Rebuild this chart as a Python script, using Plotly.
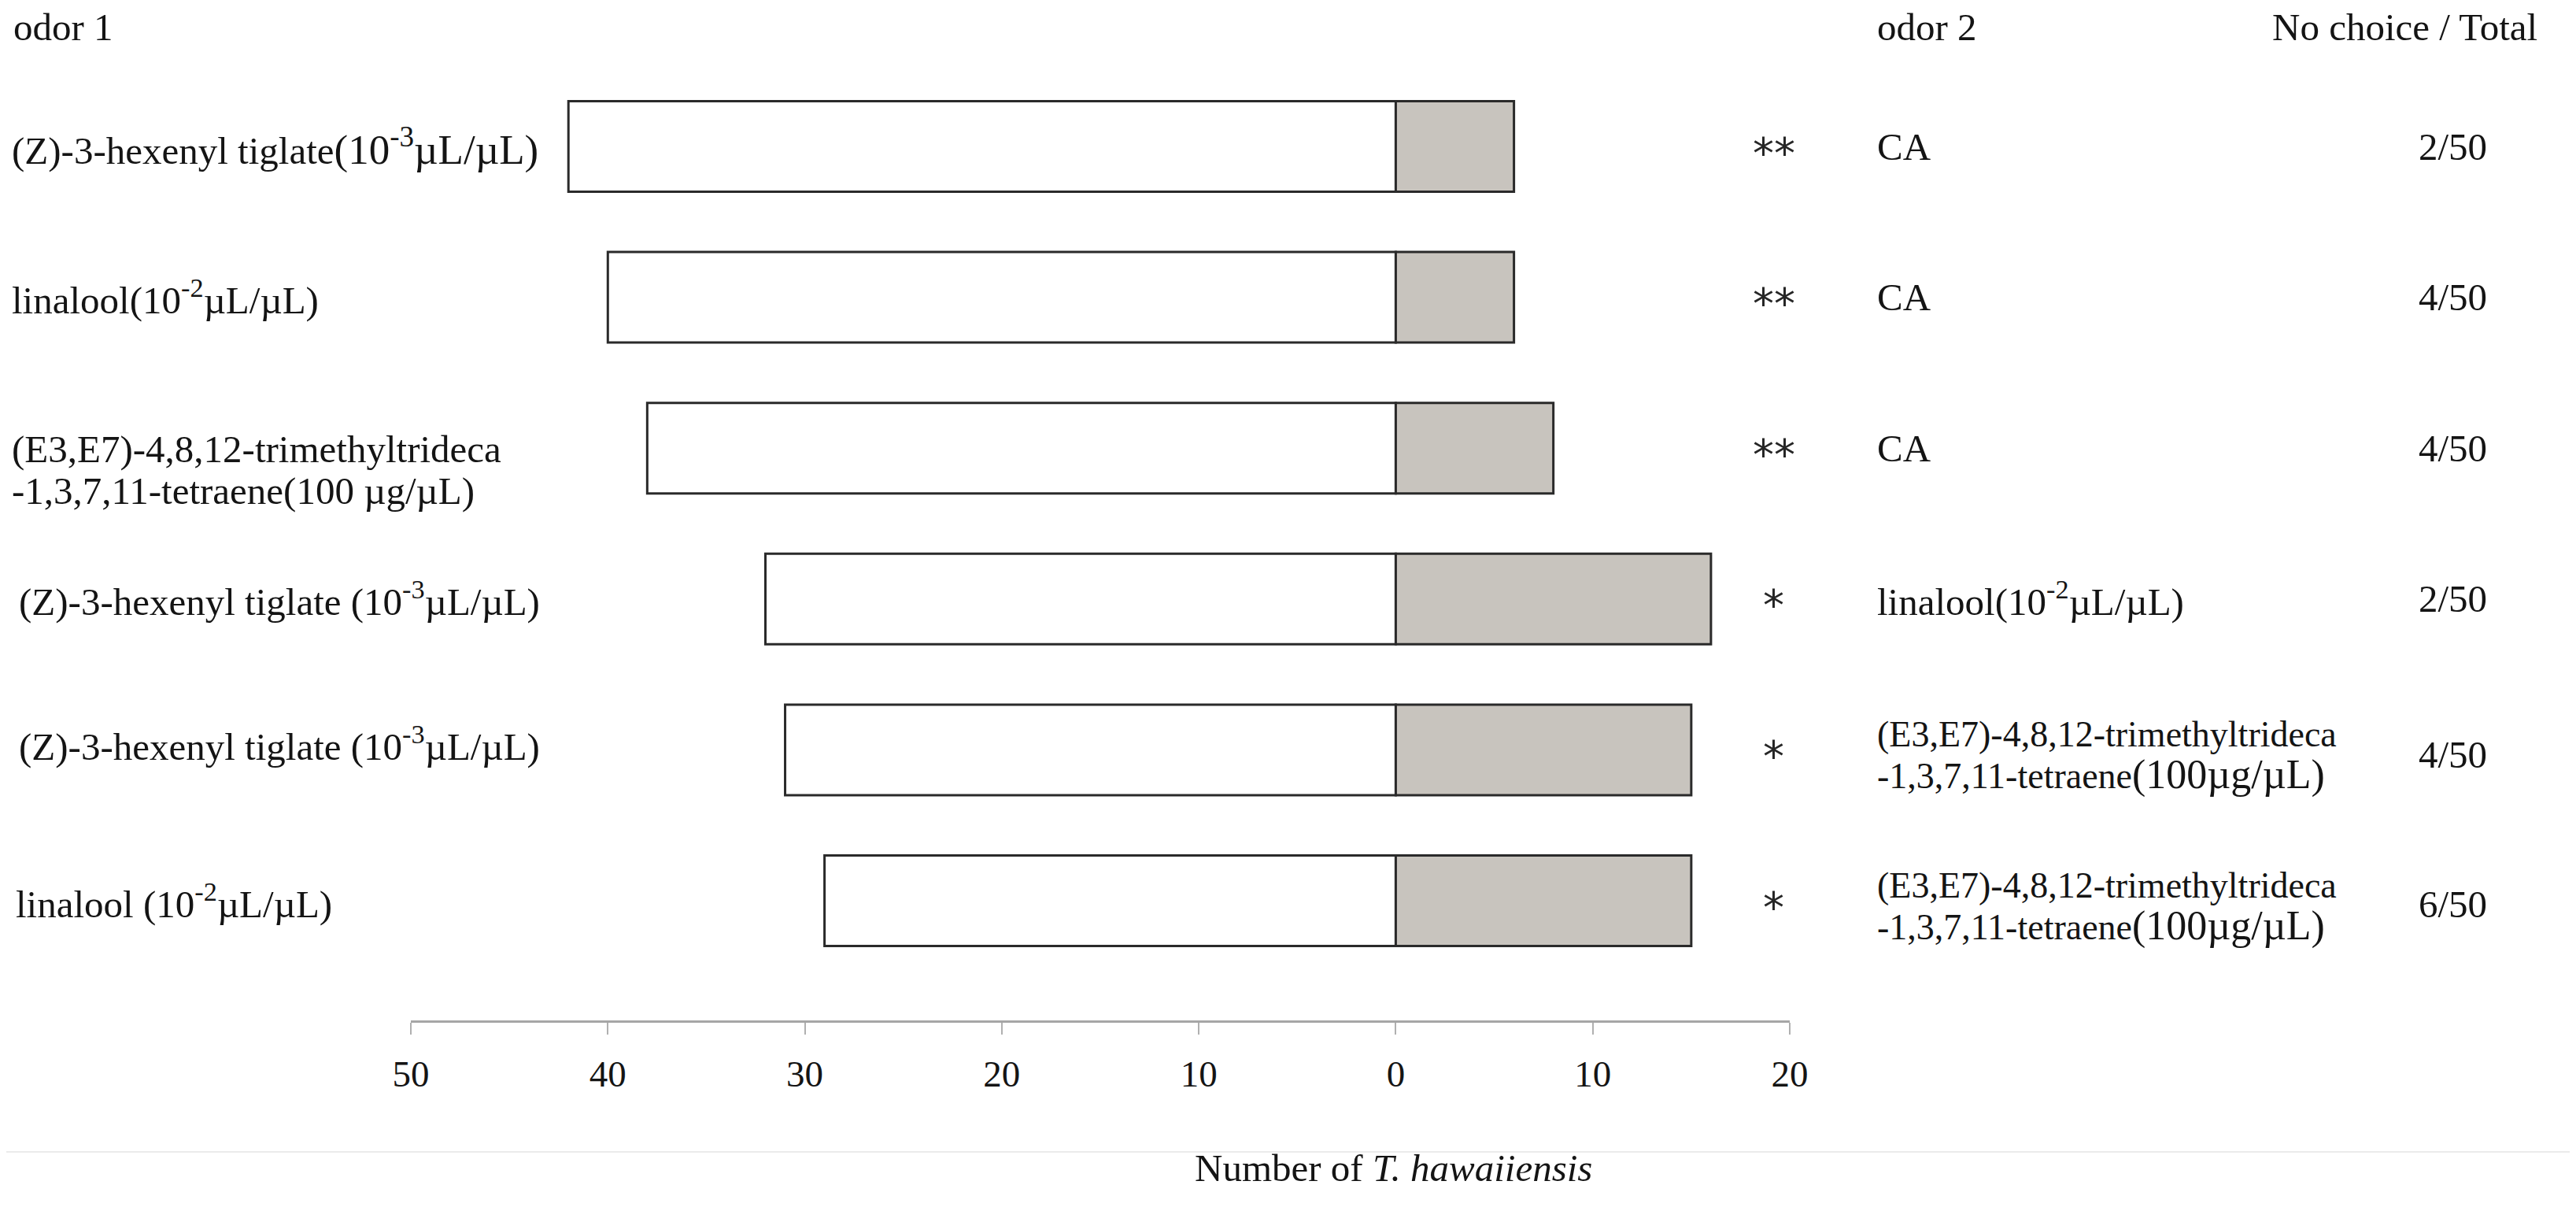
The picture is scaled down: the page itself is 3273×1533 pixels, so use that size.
import plotly.graph_objects as go

# ---------------- data ----------------
# (compound name, concentration); "<br>" separates printed lines
odor1 = [
    ("(Z)-3-hexenyl tiglate", "(10<sup>-3</sup>µL/µL)"),
    ("linalool", "(10<sup>-2</sup>µL/µL)"),
    ("(E3,E7)-4,8,12-trimethyltrideca<br>-1,3,7,11-tetraene", "(100 µg/µL)"),
    ("(Z)-3-hexenyl tiglate ", "(10<sup>-3</sup>µL/µL)"),
    ("(Z)-3-hexenyl tiglate ", "(10<sup>-3</sup>µL/µL)"),
    ("linalool ", "(10<sup>-2</sup>µL/µL)"),
]
odor2 = [
    ("CA", ""),
    ("CA", ""),
    ("CA", ""),
    ("linalool", "(10<sup>-2</sup>µL/µL)"),
    ("(E3,E7)-4,8,12-trimethyltrideca<br>-1,3,7,11-tetraene", "(100µg/µL)"),
    ("(E3,E7)-4,8,12-trimethyltrideca<br>-1,3,7,11-tetraene", "(100µg/µL)"),
]
odor1_counts = [42, 40, 38, 32, 31, 29]
odor2_counts = [6, 6, 8, 16, 15, 15]
no_choice = ["2/50", "4/50", "4/50", "2/50", "4/50", "6/50"]
significance = ["**", "**", "**", "*", "*", "*"]
tick_vals = [-50, -40, -30, -20, -10, 0, 10, 20]
tick_text = ["50", "40", "30", "20", "10", "0", "10", "20"]
x_title = "Number of <i>T. hawaiiensis</i>"
header_left, header_mid, header_right = "odor 1", "odor 2", "No choice / Total"

# ---------------- layout (pixel positions on the page) ----------------
PAGE_W, PAGE_H = 3273, 1533
OFF = 8                                  # default body margin of the page
W, H = PAGE_W - 2 * OFF, PAGE_H - 2 * OFF
AXIS_Y = 1296 - OFF                      # x axis line (figure px)
ROW0, ROW_STEP = 186 - OFF, 191.6        # first row centre and spacing
FONT = "Liberation Serif"
FS = 49
TXT = "#141414"

def px_x(p):            # page px -> paper x
    return (p - OFF) / W

def px_y(p):            # page px -> paper y (paper spans figure top .. axis line)
    return (AXIS_Y - (p - OFF)) / AXIS_Y

rows = list(range(len(odor1)))
y_top = -ROW0 / ROW_STEP
y_bot = (AXIS_Y - ROW0) / ROW_STEP

fig = go.Figure()
fig.add_trace(go.Bar(
    y=rows, x=[-v for v in odor1_counts], orientation="h", base=0,
    width=0.6, marker=dict(color="white", line=dict(color="#2a2a2a", width=3)),
    showlegend=False, hoverinfo="skip",
))
fig.add_trace(go.Bar(
    y=rows, x=odor2_counts, orientation="h", base=0,
    width=0.6, marker=dict(color="#c8c4be", line=dict(color="#2a2a2a", width=3)),
    showlegend=False, hoverinfo="skip",
))

ann = []
HDR_Y = 35
ann.append(dict(text=header_left, x=px_x(15), y=px_y(HDR_Y), xref="paper", yref="paper",
                xanchor="left", yanchor="middle", showarrow=False))
ann.append(dict(text=header_mid, x=px_x(2383), y=px_y(HDR_Y), xref="paper", yref="paper",
                xanchor="left", yanchor="middle", showarrow=False))
ann.append(dict(text=header_right, x=px_x(3226), y=px_y(HDR_Y), xref="paper", yref="paper",
                xanchor="right", yanchor="middle", showarrow=False))

# styling per row
left_x = [13, 13, 13, 22, 22, 18]
left_row_dy = [0, 0, 0, 0, -8, 0]
left_name_fs = [49, 49, 49, 49, 49, 49]
left_conc_fs = [53, 49, 49, 49, 49, 49]
right_name_fs = [49, 49, 49, 49, 46, 46]
right_conc_fs = [49, 49, 49, 49, 52, 52]
left_line_dy = {1: [0], 2: [1, 54]}
right_line_dy = {1: [0], 2: [-20, 32]}
ratio_dy = [0, 0, 0, 0, 6, 4]


def label_lines(name, conc, name_fs, conc_fs):
    lines = name.split("<br>")
    out = [f'<span style="font-size:{name_fs}px">{ln}</span>' for ln in lines]
    if conc:
        out[-1] += f'<span style="font-size:{conc_fs}px">{conc}</span>'
    return out


for i in rows:
    lines = label_lines(*odor1[i], left_name_fs[i], left_conc_fs[i])
    for line, dy in zip(lines, left_line_dy[len(lines)]):
        ann.append(dict(text=line, x=px_x(left_x[i]), y=i, yshift=-(dy + left_row_dy[i]),
                        xref="paper", yref="y", xanchor="left", yanchor="middle",
                        align="left", showarrow=False))
    lines = label_lines(*odor2[i], right_name_fs[i], right_conc_fs[i])
    for line, dy in zip(lines, right_line_dy[len(lines)]):
        ann.append(dict(text=line, x=px_x(2383), y=i, yshift=-dy,
                        xref="paper", yref="y", xanchor="left", yanchor="middle",
                        align="left", showarrow=False))
    ann.append(dict(text=no_choice[i], x=px_x(3116), y=i, yshift=-ratio_dy[i],
                    xref="paper", yref="y", xanchor="center", yanchor="middle", showarrow=False))
    ann.append(dict(text=significance[i], x=19.2, y=i, xref="x", yref="y",
                    xanchor="center", yanchor="middle", showarrow=False, yshift=-8,
                    font=dict(family="DejaVu Sans", size=54, color="#262626")))

ann.append(dict(text=x_title, x=px_x(1770), y=px_y(1484), xref="paper", yref="paper",
                xanchor="center", yanchor="middle", showarrow=False))

fig.update_layout(
    width=W, height=H, autosize=False,
    margin=dict(l=0, r=0, t=0, b=H - AXIS_Y, pad=0, autoexpand=False),
    paper_bgcolor="white", plot_bgcolor="white",
    font=dict(family=FONT, size=FS, color=TXT),
    barmode="relative",
    showlegend=False,
    annotations=ann,
    shapes=[dict(type="line", xref="paper", yref="paper", x0=-0.01, x1=1.01,
                 y0=px_y(1463), y1=px_y(1463), line=dict(color="#ebebeb", width=2))],
    xaxis=dict(
        domain=[px_x(522), px_x(2274)], range=[-50, 20],
        tickvals=tick_vals, ticktext=tick_text,
        showgrid=False, zeroline=False, automargin=False,
        showline=True, linecolor="#a6a6a6", linewidth=3,
        ticks="outside", ticklen=15, tickwidth=2, tickcolor="#b0b0b0",
        ticklabelstandoff=10,
        tickfont=dict(family=FONT, size=47, color=TXT),
        fixedrange=True,
    ),
    yaxis=dict(
        range=[y_bot, y_top], visible=False, showgrid=False, zeroline=False,
        automargin=False, fixedrange=True,
    ),
)

fig.write_html("out.html")
